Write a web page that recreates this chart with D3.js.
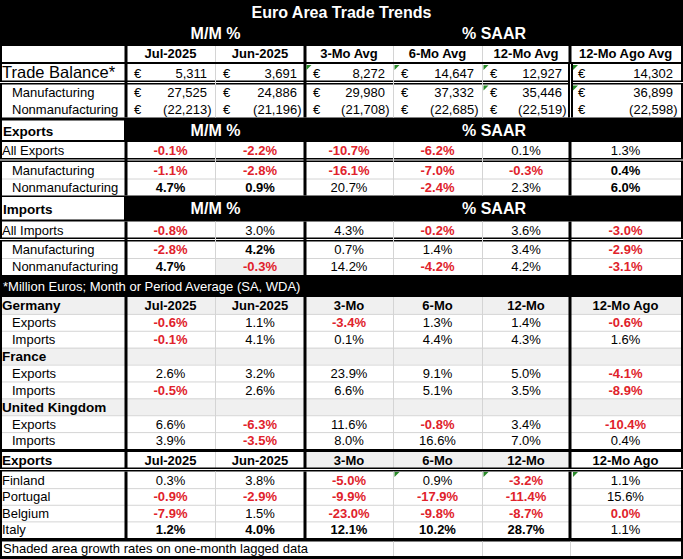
<!DOCTYPE html>
<html>
<head>
<meta charset="utf-8">
<script src="https://cdn.jsdelivr.net/npm/d3@7"></script>
<style>
  body { margin: 0; background: #fff; }
  svg { display: block; }
</style>
</head>
<body>
<div id="chart"></div>
<script>
const titleText = "Euro Area Trade Trends";
const groupTitles = ["M/M %", "% SAAR"];
const avgHeaders = ["Jul-2025", "Jun-2025", "3-Mo Avg", "6-Mo Avg", "12-Mo Avg", "12-Mo Ago Avg"];
const periodHeaders = ["Jul-2025", "Jun-2025", "3-Mo", "6-Mo", "12-Mo", "12-Mo Ago"];

const balanceLabels = ["Trade Balance*", "Manufacturing", "Nonmanufacturing"];
const balanceValues = [
    [5311, 3691, 8272, 14647, 12927, 14302],
    [27525, 24886, 29980, 37332, 35446, 36899],
    [-22213, -21196, -21708, -22685, -22519, -22598]
];
const exportLabels = ["All Exports", "Manufacturing", "Nonmanufacturing"];
const exportValues = [
    [-0.1, -2.2, -10.7, -6.2, 0.1, 1.3],
    [-1.1, -2.8, -16.1, -7.0, -0.3, 0.4],
    [4.7, 0.9, 20.7, -2.4, 2.3, 6.0]
];
const importLabels = ["All Imports", "Manufacturing", "Nonmanufacturing"];
const importValues = [
    [-0.8, 3.0, 4.3, -0.2, 3.6, -3.0],
    [-2.8, 4.2, 0.7, 1.4, 3.4, -2.9],
    [4.7, -0.3, 14.2, -4.2, 4.2, -3.1]
];
const countries = ["Germany", "France", "United Kingdom"];
const countryExports = [
    [-0.6, 1.1, -3.4, 1.3, 1.4, -0.6],
    [2.6, 3.2, 23.9, 9.1, 5.0, -4.1],
    [6.6, -6.3, 11.6, -0.8, 3.4, -10.4]
];
const countryImports = [
    [-0.1, 4.1, 0.1, 4.4, 4.3, 1.6],
    [-0.5, 2.6, 6.6, 5.1, 3.5, -8.9],
    [3.9, -3.5, 8.0, 16.6, 7.0, 0.4]
];
const exporters = ["Finland", "Portugal", "Belgium", "Italy"];
const exporterValues = [
    [0.3, 3.8, -5.0, 0.9, -3.2, 1.1],
    [-0.9, -2.9, -9.9, -17.9, -11.4, 15.6],
    [-7.9, 1.5, -23.0, -9.8, -8.7, -0.0],
    [1.2, 4.0, 12.1, 10.2, 28.7, 1.1]
];
const footnotes = [
    "*Million Euros; Month or Period Average (SA, WDA)",
    "Shaded area growth rates on one-month lagged data"
];

//cell styling: bold black values, shaded cells, excel green corner flags
const boldCells = ["exp-2-0", "exp-2-1", "exp-1-5", "exp-2-5", "imp-1-1", "imp-2-0",
    "xp-3-0", "xp-3-1", "xp-3-2", "xp-3-3", "xp-3-4"];
const shadedCells = ["imp-2-1"];
const flaggedCells = ["bal-0-2", "bal-0-3", "bal-0-4", "bal-0-5", "bal-1-4", "bal-1-5",
    "xp-0-3", "xp-0-4", "xp-0-5"];

//Dims
const width = 683;
const height = 559;
const FONT = "'Liberation Sans', Arial, Helvetica, sans-serif";
const RED = "#e0222b";
const GRID = "#d4d4d4";
const SHADE = "#f0f0f0";

const svg = d3.select("#chart")
    .append("svg")
    .attr("width", width)
    .attr("height", height)
    .attr("font-family", FONT);

svg.append("rect").attr("width", width).attr("height", height).attr("fill", "#000");

//Column scales
const cols = ["label", "c0", "c1", "c2", "c3", "c4", "c5"];
const valCols = cols.slice(1);
const xL = d3.scaleOrdinal().domain(cols).range([0, 126, 215, 305, 393, 482, 570]);
const xR = d3.scaleOrdinal().domain(cols).range([126, 215, 305, 393, 482, 570, 681]);
const xMid = c => (xL(c) + xR(c)) / 2;

const fmtMoney = d3.format(",.0f");
const isNeg = v => v < 0 || Object.is(v, -0);
const fmtPct = v => (v < 0 ? "-" : "") + Math.abs(v).toFixed(1) + "%";

const topSeps = [["c0", "black"], ["c1", "grid"], ["c2", "black"], ["c3", "grid"], ["c4", "grid"], ["c5", "double"]];
const lowSeps = [["c0", "black"], ["c1", "grid"], ["c2", "black"], ["c3", "grid"], ["c4", "grid"], ["c5", "black"]];

function whiteBand(y0, y1) {
    svg.append("rect").attr("x", 2).attr("y", y0).attr("width", 679).attr("height", y1 - y0).attr("fill", "#fff");
}
function fillCell(c, y0, y1, fill) {
    svg.append("rect").attr("x", xL(c)).attr("y", y0)
        .attr("width", xR(c) - xL(c)).attr("height", y1 - y0).attr("fill", fill);
}
function hGrid(y, x0 = 2, x1 = 681) {
    svg.append("line").attr("x1", x0).attr("x2", x1).attr("y1", y + 0.5).attr("y2", y + 0.5)
        .attr("stroke", GRID).attr("stroke-width", 1);
}
function hDouble(y) {
    svg.append("rect").attr("x", 0).attr("y", y - 1.5).attr("width", width).attr("height", 4).attr("fill", "#000");
    svg.append("rect").attr("x", 0).attr("y", y).attr("width", width).attr("height", 1).attr("fill", "#fff");
}
function seps(y0, y1, list) {
    list.forEach(([c, kind]) => {
        const x = xL(c);
        if (kind === "grid") {
            svg.append("line").attr("x1", x + 0.5).attr("x2", x + 0.5).attr("y1", y0).attr("y2", y1)
                .attr("stroke", GRID);
        } else if (kind === "black") {
            svg.append("rect").attr("x", x - 1.5).attr("y", y0).attr("width", 3).attr("height", y1 - y0).attr("fill", "#000");
        } else {
            svg.append("rect").attr("x", x - 2).attr("y", y0).attr("width", 5).attr("height", y1 - y0).attr("fill", "#000");
            svg.append("rect").attr("x", x).attr("y", y0).attr("width", 1).attr("height", y1 - y0).attr("fill", "#fff");
        }
    });
}
function label(x, y, s, opt = {}) {
    svg.append("text").attr("x", x).attr("y", y).text(s)
        .attr("font-size", opt.size || 13)
        .attr("font-weight", opt.bold ? "bold" : "normal")
        .attr("fill", opt.fill || "#000")
        .attr("text-anchor", opt.anchor || "start");
}
function headers(list, y, fill) {
    svg.append("g").selectAll("text").data(list).join("text")
        .attr("x", (d, i) => xMid(valCols[i]))
        .attr("y", y)
        .attr("text-anchor", "middle")
        .attr("font-size", 13)
        .attr("font-weight", "bold")
        .attr("fill", fill || "#000")
        .text(d => d);
}
//rowKey is like "exp-2"; column index is appended for the bold lookup
function pctCells(vals, rowKey, y) {
    svg.append("g").selectAll("text").data(vals).join("text")
        .attr("x", (d, i) => xMid(valCols[i]))
        .attr("y", y)
        .attr("text-anchor", "middle")
        .attr("font-size", 13)
        .attr("font-weight", (d, i) => isNeg(d) || boldCells.includes(`${rowKey}-${i}`) ? "bold" : "normal")
        .attr("fill", d => isNeg(d) ? RED : "#000")
        .text(fmtPct);
}
function moneyCells(vals, y) {
    const g = svg.append("g").attr("font-size", 13);
    g.selectAll(".eur").data(vals).join("text")
        .attr("x", (d, i) => xL(valCols[i]) + 8)
        .attr("y", y)
        .text("€");
    g.selectAll(".num").data(vals).join("text")
        .attr("x", (d, i) => xR(valCols[i]) - (d < 0 ? 3.5 : 8))
        .attr("y", y)
        .attr("text-anchor", "end")
        .text(d => d < 0 ? "(" + fmtMoney(-d) + ")" : fmtMoney(d));
}
function flags(key, rowIdx, y0) {
    flaggedCells.filter(k => k.startsWith(key + "-" + rowIdx + "-")).forEach(k => {
        const c = valCols[+k.split("-")[2]];
        const x = xL(c) + (c === "c5" ? 3 : 1.5);
        svg.append("path")
            .attr("d", `M${x},${y0} h5 L${x},${y0 + 5} Z`)
            .attr("fill", "#2a8a2a");
    });
}
function groupTitleRow(y) {
    label(215.5, y, groupTitles[0], { size: 16, bold: true, fill: "#fff", anchor: "middle" });
    label(494, y, groupTitles[1], { size: 16, bold: true, fill: "#fff", anchor: "middle" });
}

//Title block
label(341.5, 18, titleText, { size: 16, bold: true, fill: "#fff", anchor: "middle" });
groupTitleRow(39);

//Column headers
whiteBand(46, 62);
seps(46, 62, topSeps.map(([c, k]) => [c, k === "double" ? "black" : k]));
headers(avgHeaders, 58);

//Trade balance block
const balRows = [[64, 81, 78], [84.5, 101, 97], [101, 117.5, 114]];
whiteBand(64, 117.5);
hDouble(82);
seps(64, 117.5, topSeps);
balanceLabels.forEach((name, r) => {
    const [y0, , base] = balRows[r];
    label(r === 0 ? 2 : 12, base, name, { size: r === 0 ? 16.5 : 13 });
    moneyCells(balanceValues[r], base);
    flags("bal", r, y0 + 1);
});

//Exports / Imports blocks
function pctBlock(title, hdr, y0, names, values, key) {
    svg.append("rect").attr("x", 2).attr("y", hdr[0]).attr("width", 122).attr("height", hdr[1] - hdr[0]).attr("fill", "#fff");
    label(3, hdr[2], title, { size: 13.5, bold: true });
    groupTitleRow(hdr[2]);
    const rows = [[y0, y0 + 17], [y0 + 20.5, y0 + 36.5], [y0 + 36.5, y0 + 53.5]];
    whiteBand(y0, y0 + 53.5);
    rows.forEach(([a, b], r) => {
        values[r].forEach((v, i) => {
            if (shadedCells.includes(`${key}-${r}-${i}`)) fillCell(valCols[i], a, b, SHADE);
        });
    });
    hDouble(y0 + 17.5);
    hGrid(y0 + 36.5);
    seps(y0, y0 + 53.5, lowSeps);
    names.forEach((name, r) => {
        const base = rows[r][1] - 4;
        label(r === 0 ? 2 : 12, base, name);
        pctCells(values[r], `${key}-${r}`, base);
    });
}
pctBlock("Exports", [120.5, 140, 136], 142, exportLabels, exportValues, "exp");
pctBlock("Imports", [197, 219.5, 214], 221.5, importLabels, importValues, "imp");

//Units note
label(3, 291, footnotes[0], { fill: "#fff" });

//Country block
const countryRows = [];
countries.forEach((c, i) => {
    countryRows.push({ name: c, head: true, idx: i });
    countryRows.push({ name: "Exports", vals: countryExports[i], key: "cx-" + i });
    countryRows.push({ name: "Imports", vals: countryImports[i], key: "ci-" + i });
});
const yCountry = d3.scaleBand().domain(d3.range(countryRows.length)).range([297, 449]);
whiteBand(297, 449);
countryRows.forEach((d, i) => {
    if (d.head) svg.append("rect").attr("x", 2).attr("y", yCountry(i)).attr("width", 679)
        .attr("height", yCountry.bandwidth()).attr("fill", SHADE);
});
countryRows.forEach((d, i) => { if (i > 0) hGrid(yCountry(i)); });
seps(297, 449, lowSeps);
countryRows.forEach((d, i) => {
    const base = yCountry(i) + 13.3;
    if (d.head) {
        label(2, base, d.name, { size: 13.5, bold: true });
        if (d.idx === 0) headers(periodHeaders, base);
    } else {
        label(12, base, d.name);
        pctCells(d.vals, d.key, base);
    }
});

//Exporters block
whiteBand(452, 468);
[2, 3, 4].forEach(i => fillCell(valCols[i], 452, 468, SHADE));
seps(452, 468, lowSeps);
label(2, 465, "Exports", { size: 13.5, bold: true });
headers(periodHeaders, 465);
hDouble(469);

const yExp = d3.scaleBand().domain(d3.range(exporters.length)).range([471.5, 538]);
whiteBand(471.5, 538);
exporters.forEach((d, i) => { if (i > 0) hGrid(yExp(i)); });
seps(471.5, 538, lowSeps);
exporters.forEach((name, r) => {
    const base = yExp(r) + 13;
    label(2, base, name);
    pctCells(exporterValues[r], "xp-" + r, base);
    flags("xp", r, yExp(r) + 0.5);
});

//Footnote row
whiteBand(541.5, 556);
seps(541.5, 556, [["c3", "grid"], ["c4", "grid"], ["c5", "grid"]]);
label(3, 553, footnotes[1]);
</script>
</body>
</html>
